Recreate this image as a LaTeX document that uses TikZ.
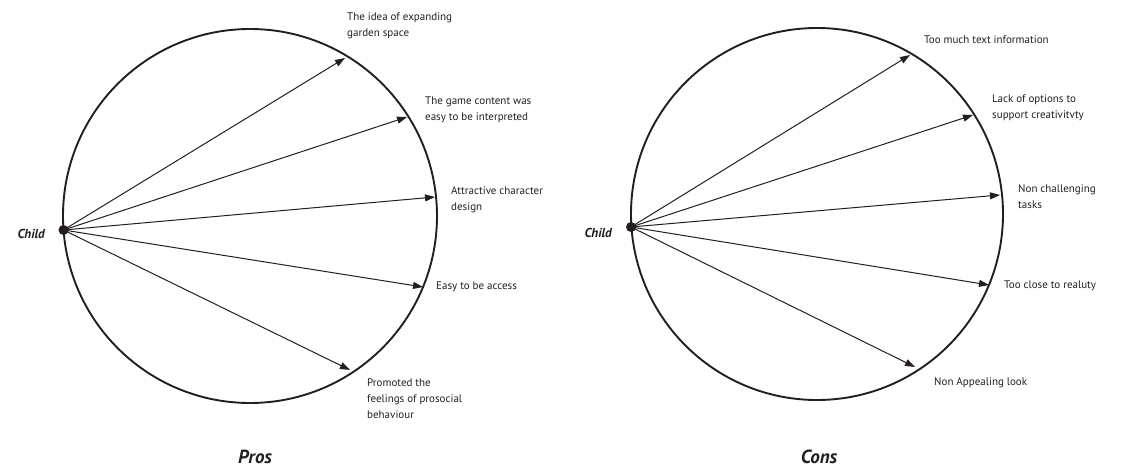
\documentclass[tikz,border=0pt]{standalone}
\usepackage{fontspec}
\setmainfont{PT Sans}
\usetikzlibrary{positioning}
\usetikzlibrary{arrows.meta}
\definecolor{ink}{RGB}{35,31,32}

\tikzset{
  ring/.style={draw=ink, line width=1.9pt},
  spoke/.style={draw=ink, line width=1pt, -{Triangle[length=10pt,width=7pt]}},
  dot/.style={circle, fill=ink, inner sep=0pt, minimum size=10pt},
  note/.style={anchor=north west, inner sep=0pt, align=left, text=ink,
    font=\fontsize{11}{16}\selectfont},
  who/.style={anchor=east, inner sep=0pt, text=ink,
    font=\fontsize{13}{15}\selectfont\bfseries\itshape},
  title/.style={inner sep=0pt, text=ink,
    font=\fontsize{19}{22}\selectfont\bfseries\itshape},
}

\begin{document}
\begin{tikzpicture}[x=1pt,y=-1pt]

  \useasboundingbox (0,0) rectangle (1122,473);

  % pros
  \draw[ring] (250,216) circle[radius=187];
  \node[dot] (childP) at (63.5,230) {};
  \node[who] (whoP) at (45,234) {Child};

  \coordinate (p1) at (345,58);
  \coordinate (p2) at (407,117);
  \coordinate (p3) at (435,197);
  \coordinate (p4) at (423,287);
  \coordinate (p5) at (350,370);

  \draw[spoke] (childP.center) -- (p1);
  \draw[spoke] (childP.center) -- (p2);
  \draw[spoke] (childP.center) -- (p3);
  \draw[spoke] (childP.center) -- (p4);
  \draw[spoke] (childP.center) -- (p5);

  \node[note] (lp1) at (347,13) {The idea of expanding\\garden space};
  \node[note] (lp2) at (425,97) {The game content was\\easy to be interpreted};
  \node[note] (lp3) at (451,186) {Attractive character\\design};
  \node[note] (lp4) at (436,282) {Easy to be access};
  \node[note] (lp5) at (367,379) {Promoted the\\feelings of prosocial\\behaviour};

  \node[title] (pros) at (255,457) {Pros};

  % cons
  \draw[ring] (817,214) circle[radius=186];
  \node[dot] (childC) at (631,227) {};
  \node[who] (whoC) at (612,233) {Child};

  \coordinate (c1) at (910,55);
  \coordinate (c2) at (973,115);
  \coordinate (c3) at (1000,195);
  \coordinate (c4) at (989,285);
  \coordinate (c5) at (915,367);

  \draw[spoke] (childC.center) -- (c1);
  \draw[spoke] (childC.center) -- (c2);
  \draw[spoke] (childC.center) -- (c3);
  \draw[spoke] (childC.center) -- (c4);
  \draw[spoke] (childC.center) -- (c5);

  \node[note] (lc1) at (924,36) {Too much text information};
  \node[note] (lc2) at (992,95) {Lack of options to\\support creativitvty};
  \node[note] (lc3) at (1018,184) {Non challenging\\tasks};
  \node[note] (lc4) at (1004,281) {Too close to realuty};
  \node[note] (lc5) at (934,377) {Non Appealing look};

  \node[title] (cons) at (819,457) {Cons};

\end{tikzpicture}
\end{document}
